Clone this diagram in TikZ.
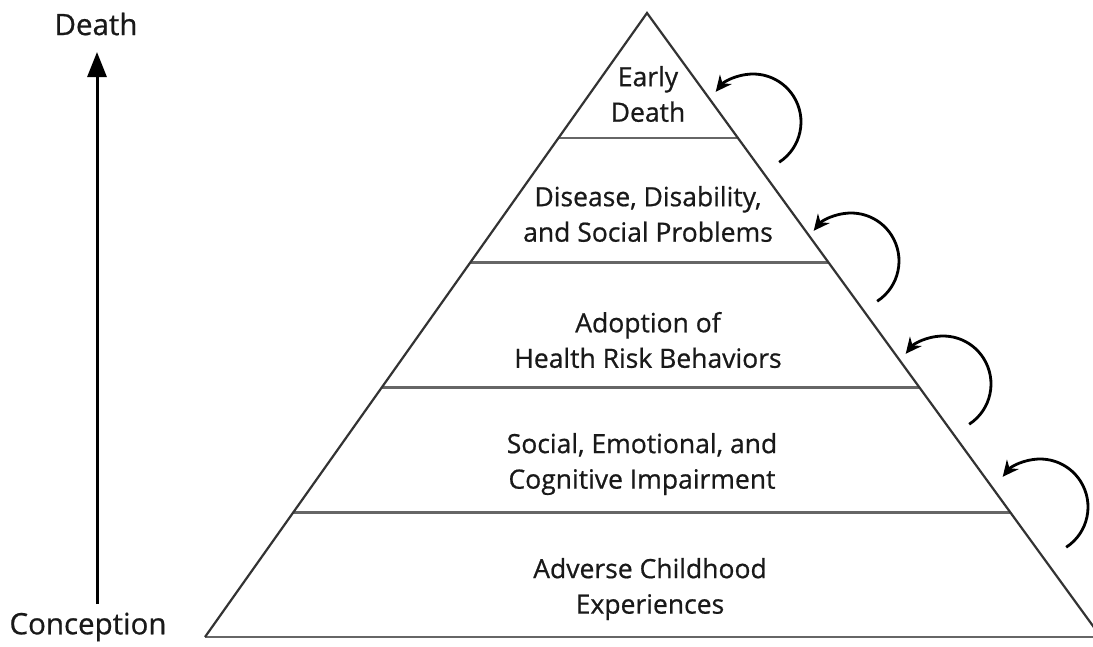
\documentclass[tikz,border=0pt]{standalone}
\usepackage{fontspec}
\setmainfont[FakeBold=0.7]{Open Sans}
\usetikzlibrary{arrows.meta,calc}
\begin{document}
\begin{tikzpicture}[x=1pt,y=-1pt,
  side/.style={line width=2.2pt, draw=black!80, line join=miter},
  tier/.style={line width=2.6pt, draw=black!60},
  lbl/.style={align=center, font=\fontsize{26.5}{35.5}\selectfont, text=black!90, inner sep=0pt},
  axislbl/.style={font=\fontsize{29.5}{32}\selectfont, text=black!90, inner sep=0pt},
  loop/.style={line width=2.8pt, -{Stealth[length=16pt,width=15pt]}}]
\useasboundingbox (0,0) rectangle (1093,646);
\coordinate (apex) at (647,13);
\coordinate (bl) at (205,637);
\coordinate (br) at (1101,637);
% tier lines
\foreach \t [count=\i] in {0.2,0.4,0.6,0.8}{
  \draw[tier] ($(apex)!\t!(bl)$) coordinate (L\i) -- ($(apex)!\t!(br)$) coordinate (R\i);
}
\draw[tier] (bl) -- (br);
\draw[side] (bl) -- (apex) -- (br);
% labels
\node[lbl] (t1) at (648,94) {Early\\Death};
\node[lbl] (t2) at (648,214) {Disease, Disability,\\and Social Problems};
\node[lbl] (t3) at (648,340) {Adoption of\\Health Risk Behaviors};
\node[lbl] (t4) at (642,464) {Social, Emotional, and\\Cognitive Impairment};
\node[lbl] (t5) at (650,589) {Adverse Childhood\\Experiences};
% axis
\node[axislbl] (death) at (96,24) {Death};
\node[axislbl] (conc) at (88,627) {Conception};
\coordinate (ahi) at (97,52);
\coordinate (alo) at (97,604);
\draw[line width=3pt, -{Triangle[length=25pt,width=19pt]}] (alo) -- (ahi);
% feedback arrows
\foreach \cx/\cy [count=\j] in {753/122, 851/261, 943/384, 1040/507}{
  \coordinate (c\j) at (\cx,\cy);
  \draw[loop] ($(c\j)+(57:48)$) arc[start angle=57, end angle=-141, radius=48];
}
\end{tikzpicture}
\end{document}
